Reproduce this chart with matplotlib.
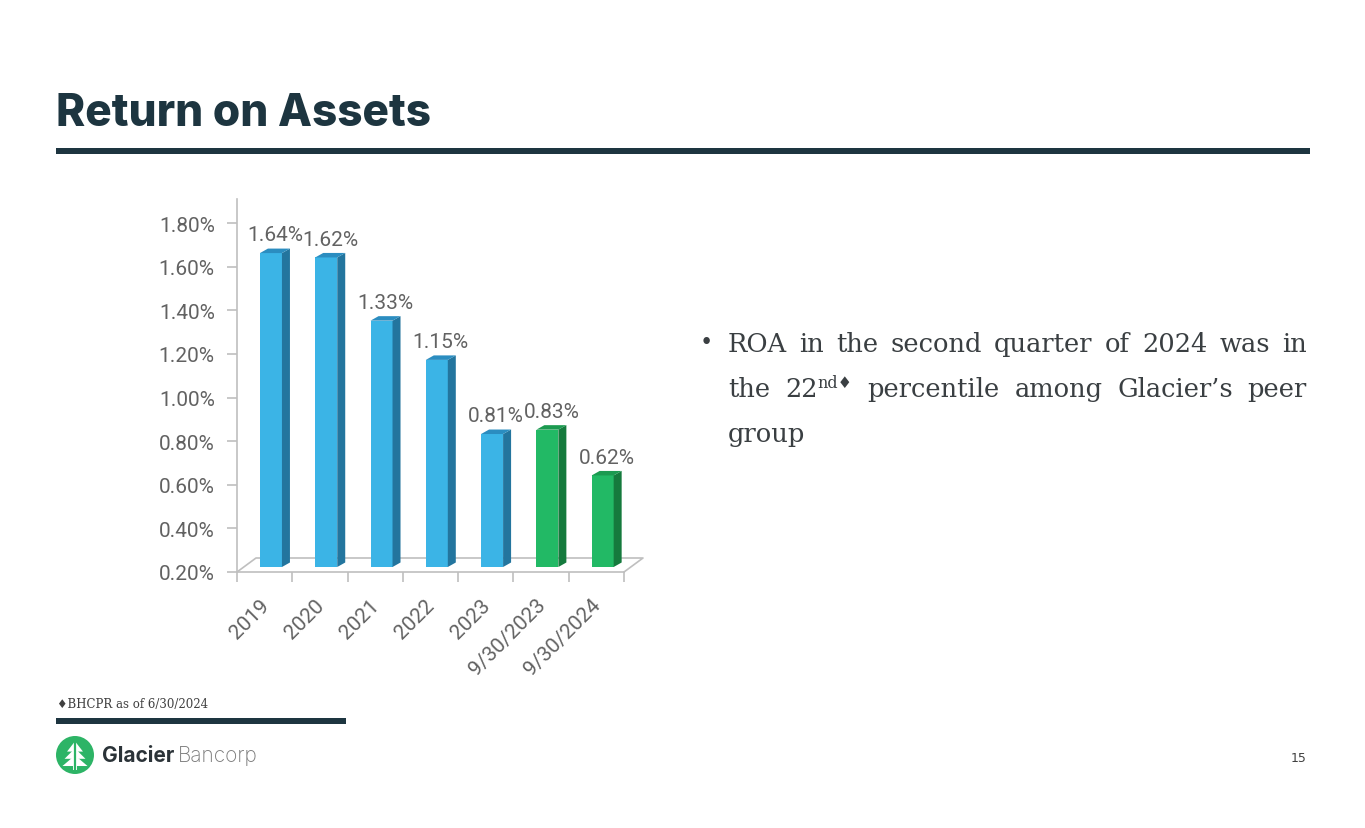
import numpy as np
import matplotlib
matplotlib.use("Agg")
import matplotlib.pyplot as plt
from matplotlib.patches import Polygon, Circle, Rectangle

# chart data
categories = ["2019", "2020", "2021", "2022", "2023", "9/30/2023", "9/30/2024"]
roa = [1.64, 1.62, 1.33, 1.15, 0.81, 0.83, 0.62]
is_ytd = [False, False, False, False, False, True, True]
y_ticks = [0.2, 0.4, 0.6, 0.8, 1.0, 1.2, 1.4, 1.6, 1.8]

title = "Return on Assets"
bullet_lines = [
    ["ROA", "in", "the", "second", "quarter", "of", "2024", "was", "in"],
    ["the", ("22", "nd\u2666"), "percentile", "among", "Glacier\u2019s", "peer"],
    ["group"],
]
footnote = "\u2666BHCPR as of 6/30/2024"
page_no = "15"

W, H = 1365, 829
fig = plt.figure(figsize=(W / 100, H / 100), dpi=100)
fig.patch.set_facecolor("white")

def fx(px):
    return px / W

def fy(py):
    return 1 - py / H

dark = "#1D3540"
gray_txt = "#626262"
axis_gray = "#BFBFBF"
blue = ("#3BB4E6", "#23759E", "#2B8DC0")
green = ("#22B965", "#157A3D", "#1B9A50")
cfont = ["Roboto", "DejaVu Sans"]
csize = 15
cweight = "normal"

# title and rules
fig.text(fx(56), fy(126), title, fontsize=31.8, fontweight="heavy",
         family=["Inter", "DejaVu Sans"], color=dark, va="baseline", ha="left")
fig.add_artist(Rectangle((fx(56), fy(155)), fx(1310) - fx(56), fy(149) - fy(155),
                         transform=fig.transFigure, color=dark, lw=0))
fig.add_artist(Rectangle((fx(56), fy(725)), fx(346) - fx(56), fy(719) - fy(725),
                         transform=fig.transFigure, color=dark, lw=0))

# chart axes
px_per_cat = (624 - 237) / 7.0
y_per_px = 0.2 / 43.6
ax = fig.add_axes([fx(237), fy(573), fx(624) - fx(237), fy(200) - fy(573)])
ax.set_xlim(-0.5, 6.5)
ax.set_ylim(0.2, 0.2 + 373 * y_per_px)
ax.patch.set_alpha(0)
for s in ["top", "right"]:
    ax.spines[s].set_visible(False)
ax.spines["left"].set_color(axis_gray)
ax.spines["bottom"].set_color(axis_gray)
ax.spines["left"].set_linewidth(1.2)
ax.spines["bottom"].set_linewidth(1.2)

ax.set_yticks(y_ticks)
ax.set_yticklabels(["%.2f%%" % t for t in y_ticks], fontsize=csize,
                   family=cfont, fontweight=cweight, color=gray_txt)
ax.tick_params(axis="y", length=7, color=axis_gray, width=1.2, pad=9)
ax.set_xticks(np.arange(-0.5, 7, 1.0))
ax.set_xticklabels([])
ax.tick_params(axis="x", length=7, color=axis_gray, width=1.2)

# 3D floor
fdx = 19 / px_per_cat
fdy = 14 * y_per_px
floor_x = [-0.5, -0.5 + fdx, 6.5 + fdx, 6.5]
floor_y = [0.2, 0.2 + fdy, 0.2 + fdy, 0.2]
ax.plot(floor_x, floor_y, color=axis_gray, lw=1.2, clip_on=False, zorder=1)

# 3D bars
foff = -0.085
bw = 22 / px_per_cat
sdx = 8 / px_per_cat
sdy = 4.5 * y_per_px
base = 0.2 + 5 * y_per_px
xs = np.arange(len(categories))
for i, v in enumerate(roa):
    front, side, topc = green if is_ytd[i] else blue
    xl = xs[i] + foff
    xr = xl + bw
    top = v + (base - 0.2)
    ax.bar(xl, top - base, width=bw, bottom=base, align="edge", color=front,
           lw=0, zorder=3)
    ax.add_patch(Polygon([(xr, base), (xr + sdx, base + sdy), (xr + sdx, top + sdy), (xr, top)],
                         closed=True, color=side, lw=0, zorder=3))
    ax.add_patch(Polygon([(xl, top), (xr, top), (xr + sdx, top + sdy), (xl + sdx, top + sdy)],
                         closed=True, color=topc, lw=0, zorder=3))
    ax.annotate("%.2f%%" % v, (xl + (bw + sdx) / 2, top + sdy), xytext=(0, 6),
                textcoords="offset points", ha="center", va="baseline", fontsize=csize,
                family=cfont, fontweight=cweight, color=gray_txt, annotation_clip=False)
    ax.text(xs[i] - 0.1, 0.2 - 23 * y_per_px, categories[i], rotation=45,
            rotation_mode="anchor", ha="right", va="top", fontsize=csize,
            family=cfont, fontweight=cweight, color=gray_txt, clip_on=False)

# bullet text, justified
bfont = ["DejaVu Serif"]
bsize = 18.5
sup_size = 11.5
txt_col = "#3A3F42"
renderer = fig.canvas.get_renderer()

def text_w(s, size):
    t = fig.text(0, 0, s, fontsize=size, family=bfont)
    w = t.get_window_extent(renderer).width
    t.remove()
    return w

x_left, x_right = 728, 1307
baselines = [352, 397, 442]
fig.text(fx(706), fy(349), "\u2022", fontsize=16, family=bfont, color=txt_col,
         ha="center", va="baseline")
for li, words in enumerate(bullet_lines):
    widths = []
    for w in words:
        if isinstance(w, tuple):
            widths.append(text_w(w[0], bsize) + text_w(w[1], sup_size))
        else:
            widths.append(text_w(w, bsize))
    if li < len(bullet_lines) - 1:
        gap = (x_right - x_left - sum(widths)) / (len(words) - 1)
    else:
        gap = text_w(" ", bsize) * 1.3
    x = x_left
    for w, wd in zip(words, widths):
        if isinstance(w, tuple):
            fig.text(fx(x), fy(baselines[li]), w[0], fontsize=bsize, family=bfont,
                     color=txt_col, va="baseline")
            x2 = x + text_w(w[0], bsize)
            fig.text(fx(x2), fy(baselines[li] - 9), w[1], fontsize=sup_size, family=bfont,
                     color=txt_col, va="baseline")
        else:
            fig.text(fx(x), fy(baselines[li]), w, fontsize=bsize, family=bfont,
                     color=txt_col, va="baseline")
        x += wd + gap

# footnote and page number
fig.text(fx(57), fy(708), footnote, fontsize=8.5, family=bfont, color="#404040",
         va="baseline")
fig.text(fx(1307), fy(762), page_no, fontsize=9, family=["DejaVu Sans"], color="#404040",
         va="baseline", ha="right")

# logo
lax = fig.add_axes([fx(56), fy(775), fx(94) - fx(56), fy(737) - fy(775)])
lax.set_xlim(-1, 1)
lax.set_ylim(-1, 1)
lax.axis("off")
lgreen = "#2DB466"
lax.add_patch(Circle((0, 0), 1, color=lgreen, lw=0))
tiers = [(0.72, 0.18, 0.42), (0.35, -0.2, 0.55), (-0.02, -0.58, 0.66)]
for apex, bot, half in tiers:
    lax.add_patch(Polygon([(0, apex), (half, bot), (-half, bot)], closed=True,
                          color="white", lw=0))
lax.plot([0, 0], [-0.8, 0.75], color=lgreen, lw=1.6)
lax.add_patch(Rectangle((-0.12, -0.78), 0.24, 0.22, color="white", lw=0))
fig.text(fx(102), fy(762), "Glacier", fontsize=15, fontweight="bold",
         family=["Inter", "DejaVu Sans"], color="#2B3338", va="baseline")
fig.text(fx(178), fy(762), "Bancorp", fontsize=15, fontweight="light",
         family=["Inter", "DejaVu Sans"], color="#7A7A7A", va="baseline")

fig.savefig("out.png", dpi=100, facecolor="white")
